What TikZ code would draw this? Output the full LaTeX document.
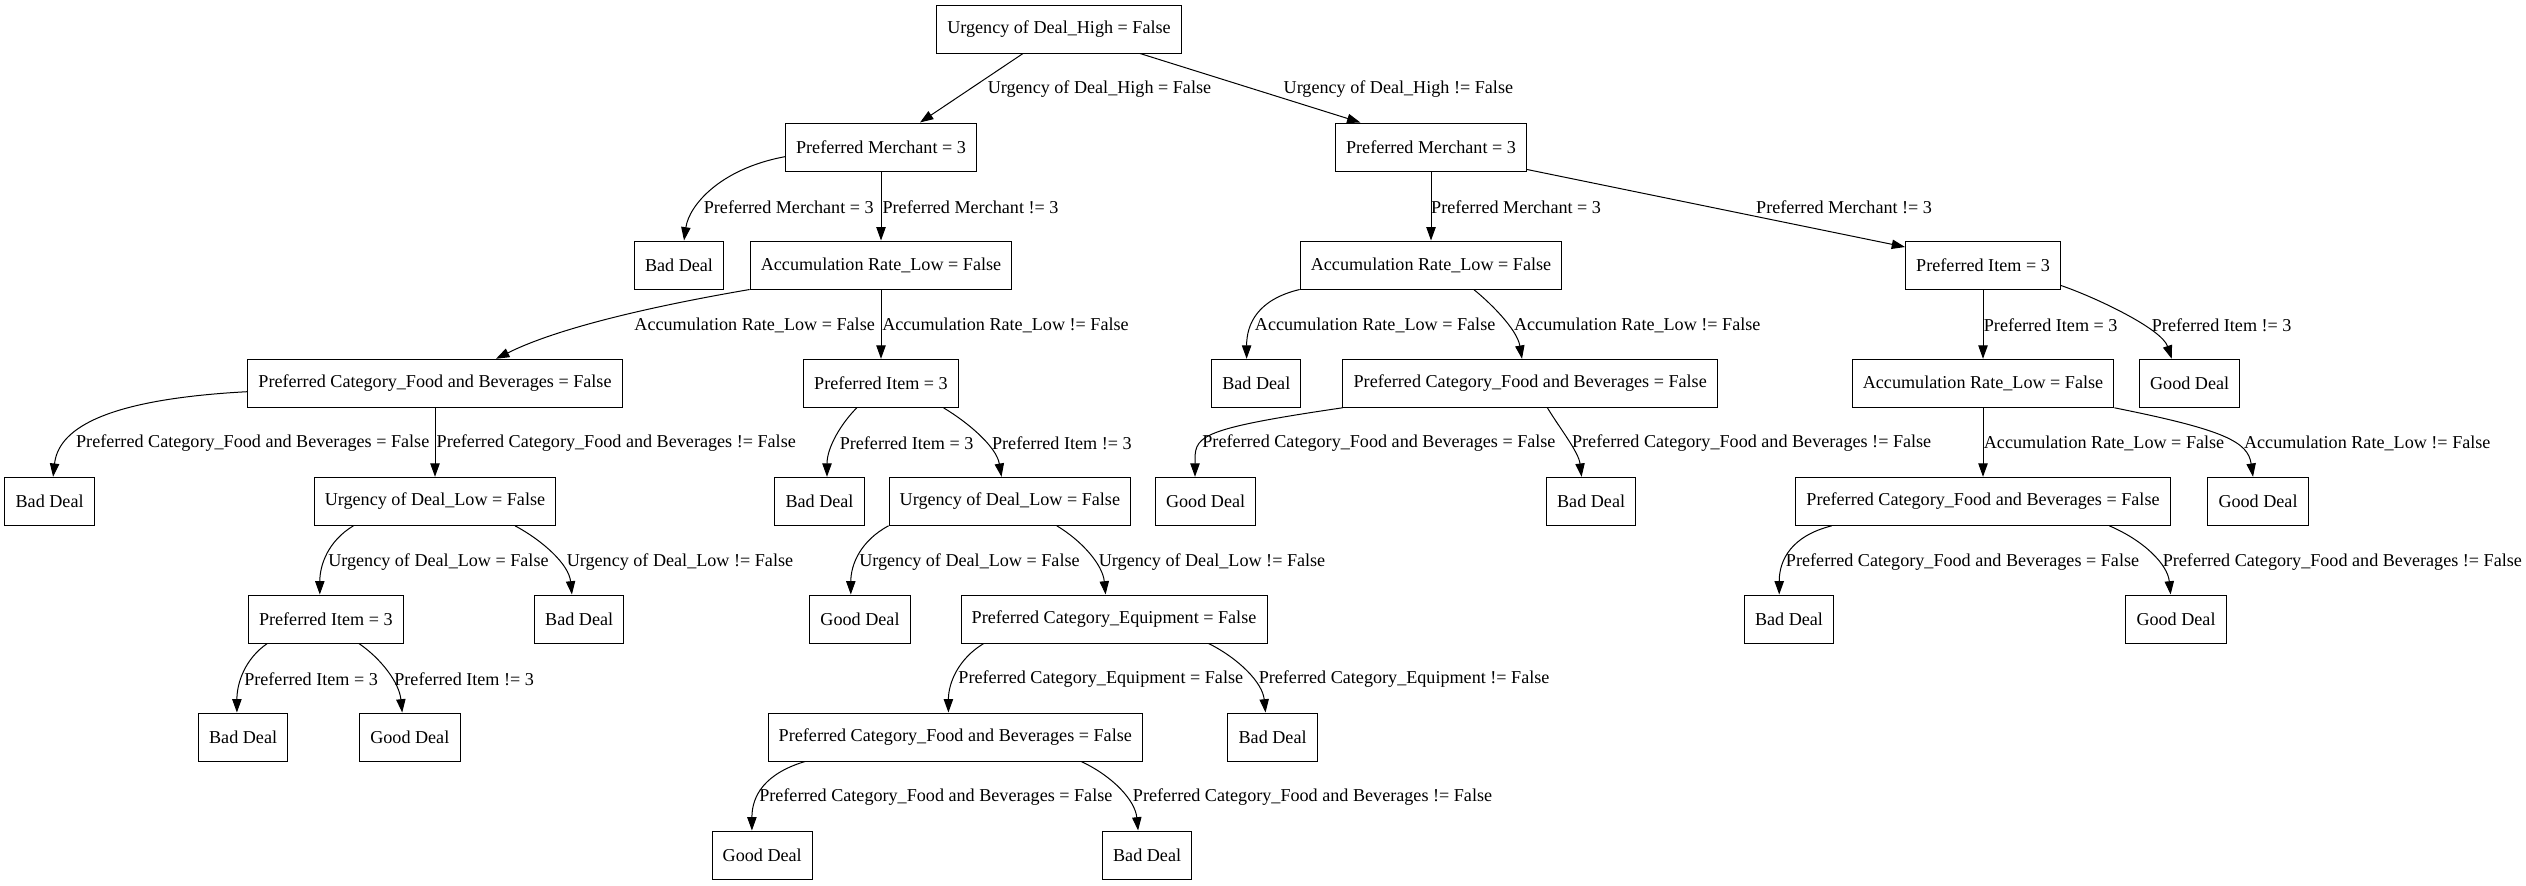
\documentclass[tikz,border=0pt]{standalone}
\usepackage{fontspec}
\setmainfont{Liberation Serif}
\usetikzlibrary{arrows.meta,calc}
\newcommand{\fs}{\fontsize{13.6pt}{15.6pt}\selectfont}
\tikzset{
  box/.style={draw, rectangle, line width=0.75pt, minimum height=36pt, inner xsep=8pt, font=\fs},
  lab/.style={anchor=west, inner sep=0pt, font=\fs},
  conn/.style={draw, line width=0.75pt, -{Triangle[length=10pt,width=7pt]}}
}
\begin{document}
\begin{tikzpicture}[x=0.75pt, y=-0.75pt]
\useasboundingbox (0,0) rectangle (2526,885);
% nodes
\node[box] (root) at (1059,29) {Urgency of Deal\_High = False};
\node[box] (pmL) at (881,147) {Preferred Merchant = 3};
\node[box] (pmR) at (1431,147) {Preferred Merchant = 3};
\node[box] (badA) at (679,265) {Bad Deal};
\node[box] (acL) at (881,265) {Accumulation Rate\_Low = False};
\node[box] (acR) at (1431,265) {Accumulation Rate\_Low = False};
\node[box] (piR) at (1983,265) {Preferred Item = 3};
\node[box] (pcfL) at (435,383.3) {Preferred Category\_Food and Beverages = False};
\node[box] (piL) at (881,383.3) {Preferred Item = 3};
\node[box] (badB) at (1256.3,383.3) {Bad Deal};
\node[box] (pcfR) at (1530.2,383.3) {Preferred Category\_Food and Beverages = False};
\node[box] (acR2) at (1983,383.3) {Accumulation Rate\_Low = False};
\node[box] (goodA) at (2189.6,383.3) {Good Deal};
\node[box] (badC) at (49.6,501.3) {Bad Deal};
\node[box] (ulL) at (435,501.3) {Urgency of Deal\_Low = False};
\node[box] (badD) at (819.5,501.3) {Bad Deal};
\node[box] (ulM) at (1009.9,501.3) {Urgency of Deal\_Low = False};
\node[box] (goodB) at (1205.6,501.3) {Good Deal};
\node[box] (badE) at (1591.1,501.3) {Bad Deal};
\node[box] (pcfR4) at (1983,501.3) {Preferred Category\_Food and Beverages = False};
\node[box] (goodC) at (2258,501.3) {Good Deal};
\node[box] (piL5) at (325.8,619) {Preferred Item = 3};
\node[box] (badF) at (579.2,619) {Bad Deal};
\node[box] (goodD) at (860,619) {Good Deal};
\node[box] (pce) at (1114,619) {Preferred Category\_Equipment = False};
\node[box] (badG) at (1789,619) {Bad Deal};
\node[box] (goodE) at (2176,619) {Good Deal};
\node[box] (badH) at (243.1,737) {Bad Deal};
\node[box] (goodF) at (409.8,737) {Good Deal};
\node[box] (pcfM) at (955.3,737) {Preferred Category\_Food and Beverages = False};
\node[box] (badI) at (1272.6,737) {Bad Deal};
\node[box] (goodG) at (762.2,855) {Good Deal};
\node[box] (badJ) at (1147.1,855) {Bad Deal};
% edges
\draw[conn] ($(root.south)+(-36,0)$) -- ($(pmL.north)+(39,0)$);
\draw[conn] ($(root.south)+(81,0)$) -- ($(pmR.north)+(-70.6,0)$);
\draw[conn] ($(pmL.west)+(0,9.7)$) .. controls +(-65,12) and +(5,-35) .. ($(badA.north)+(5,0)$);
\draw[conn] (pmL.south) -- (acL.north);
\draw[conn] (pmR.south) -- (acR.north);
\draw[conn] ($(pmR.south east)+(0,-2)$) -- ($(piR.west)+(0,-18)$);
\draw[conn] (acL.south west) .. controls +(-70,12) and +(70,-35) .. ($(pcfL.north)+(61,0)$);
\draw[conn] (acL.south) -- (piL.north);
\draw[conn] (acR.south west) .. controls +(-42,10) and +(0,-35) .. ($(badB.north)+(-9.7,0)$);
\draw[conn] ($(acR.south)+(42.7,0)$) .. controls +(15,12) and +(-5,-30) .. ($(pcfR.north)+(-8.2,0)$);
\draw[conn] (piR.south) -- (acR2.north);
\draw[conn] ($(piR.south east)+(0,-4)$) .. controls +(35,12) and +(-10,-30) .. ($(goodA.north)+(-17.9,0)$);
\draw[conn] ($(pcfL.west)+(0,8.4)$) .. controls +(-150,8) and +(5,-45) .. ($(badC.north)+(3.5,0)$);
\draw[conn] (pcfL.south) -- (ulL.north);
\draw[conn] ($(piL.south)+(-24.2,0)$) .. controls +(-15,15) and +(0,-30) .. ($(badD.north)+(7.5,0)$);
\draw[conn] ($(piL.south)+(62.5,0)$) .. controls +(25,15) and +(-5,-30) .. ($(ulM.north)+(-8.4,0)$);
\draw[conn] (pcfR.south west) .. controls +(-150,22) and +(0,-40) .. ($(goodB.north)+(-10.6,0)$);
\draw[conn] ($(pcfR.south)+(17.2,0)$) .. controls +(12,20) and +(-3,-25) .. ($(badE.north)+(-9.5,0)$);
\draw[conn] (acR2.south) -- (pcfR4.north);
\draw[conn] (acR2.south east) .. controls +(110,22) and +(-5,-35) .. ($(goodC.north)+(-5,0)$);
\draw[conn] ($(ulL.south)+(-81.6,0)$) .. controls +(-25,15) and +(0,-30) .. ($(piL5.north)+(-6,0)$);
\draw[conn] ($(ulL.south)+(80,0)$) .. controls +(28,15) and +(-3,-30) .. ($(badF.north)+(-7.3,0)$);
\draw[conn] (ulM.south west) .. controls +(-28,15) and +(0,-30) .. ($(goodD.north)+(-9.2,0)$);
\draw[conn] ($(ulM.south)+(46.9,0)$) .. controls +(25,15) and +(-3,-30) .. ($(pce.north)+(-8.4,0)$);
\draw[conn] ($(pcfR4.south)+(-151.2,0)$) .. controls +(-40,10) and +(0,-35) .. ($(badG.north)+(-9.8,0)$);
\draw[conn] ($(pcfR4.south)+(126.3,0)$) .. controls +(35,15) and +(-3,-30) .. ($(goodE.north)+(-5.4,0)$);
\draw[conn] ($(piL5.south)+(-58.5,0)$) .. controls +(-22,15) and +(0,-30) .. ($(badH.north)+(-6.2,0)$);
\draw[conn] ($(piL5.south)+(33.1,0)$) .. controls +(22,15) and +(-3,-30) .. ($(goodF.north)+(-7.6,0)$);
\draw[conn] ($(pce.south)+(-130.3,0)$) .. controls +(-25,15) and +(0,-30) .. ($(pcfM.north)+(-6.9,0)$);
\draw[conn] ($(pce.south)+(94.6,0)$) .. controls +(30,15) and +(-3,-30) .. ($(badI.north)+(-7.1,0)$);
\draw[conn] ($(pcfM.south)+(-150.3,0)$) .. controls +(-40,12) and +(0,-35) .. ($(goodG.north)+(-10.3,0)$);
\draw[conn] ($(pcfM.south)+(125.9,0)$) .. controls +(32,15) and +(-3,-30) .. ($(badJ.north)+(-9,0)$);
% labels
\node[lab] (l1) at (987.5,89) {Urgency of Deal\_High = False};
\node[lab] (l2) at (1283.4,89) {Urgency of Deal\_High != False};
\node[lab] (l3) at (703.6,207) {Preferred Merchant = 3};
\node[lab] (l4) at (882.3,207) {Preferred Merchant != 3};
\node[lab] (l5) at (1430.9,207) {Preferred Merchant = 3};
\node[lab] (l6) at (1755.9,207) {Preferred Merchant != 3};
\node[lab] (l7) at (634.2,325) {Accumulation Rate\_Low = False};
\node[lab] (l8) at (882,325) {Accumulation Rate\_Low != False};
\node[lab] (l9) at (1254.7,325) {Accumulation Rate\_Low = False};
\node[lab] (l10) at (1513.8,325) {Accumulation Rate\_Low != False};
\node[lab] (l11) at (1983.6,325) {Preferred Item = 3};
\node[lab] (l12) at (2151.6,325) {Preferred Item != 3};
\node[lab] (l13) at (75.9,443) {Preferred Category\_Food and Beverages = False};
\node[lab] (l14) at (436.4,443) {Preferred Category\_Food and Beverages != False};
\node[lab] (l15) at (839.5,443) {Preferred Item = 3};
\node[lab] (l16) at (991.8,443) {Preferred Item != 3};
\node[lab] (l17) at (1202.1,443) {Preferred Category\_Food and Beverages = False};
\node[lab] (l18) at (1571.8,443) {Preferred Category\_Food and Beverages != False};
\node[lab] (l19) at (1983.6,443) {Accumulation Rate\_Low = False};
\node[lab] (l20) at (2243.8,443) {Accumulation Rate\_Low != False};
\node[lab] (l21) at (328,561.7) {Urgency of Deal\_Low = False};
\node[lab] (l22) at (566.5,561.7) {Urgency of Deal\_Low != False};
\node[lab] (l23) at (859,561.7) {Urgency of Deal\_Low = False};
\node[lab] (l24) at (1098.6,561.7) {Urgency of Deal\_Low != False};
\node[lab] (l25) at (1785.7,561.7) {Preferred Category\_Food and Beverages = False};
\node[lab] (l26) at (2162.5,561.7) {Preferred Category\_Food and Beverages != False};
\node[lab] (l27) at (244,679.3) {Preferred Item = 3};
\node[lab] (l28) at (394.1,679.3) {Preferred Item != 3};
\node[lab] (l29) at (958.2,679.3) {Preferred Category\_Equipment = False};
\node[lab] (l30) at (1258.5,679.3) {Preferred Category\_Equipment != False};
\node[lab] (l31) at (759,797.3) {Preferred Category\_Food and Beverages = False};
\node[lab] (l32) at (1132.7,797.3) {Preferred Category\_Food and Beverages != False};
\end{tikzpicture}
\end{document}
